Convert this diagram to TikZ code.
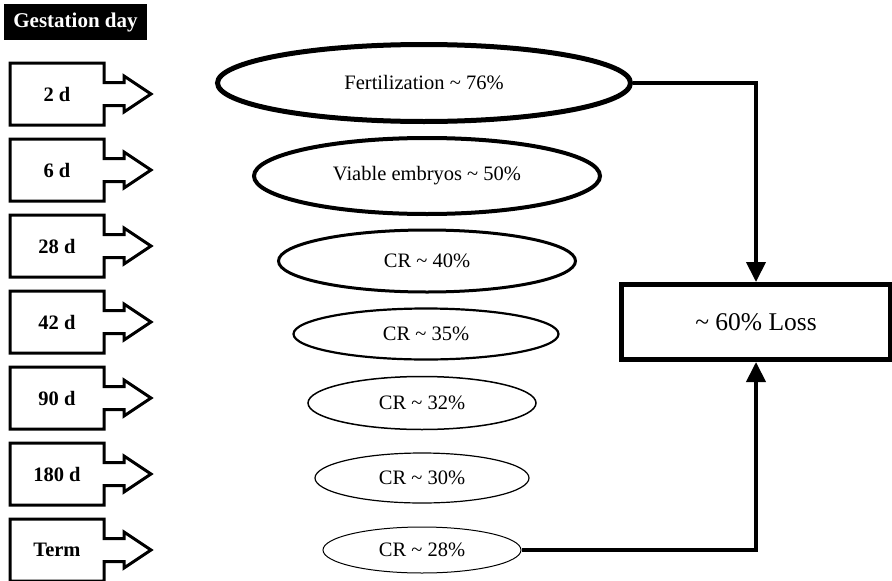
\documentclass[tikz,border=0pt]{standalone}
\usepackage{fontspec}
\setmainfont{Liberation Serif}
\usetikzlibrary{arrows.meta,shapes.geometric}
\tikzset{
	headbox/.style={fill=black, text=white, font=\bfseries\fontsize{21}{25}\selectfont, minimum width=143pt, minimum height=36pt, inner sep=0pt},
	daytext/.style={font=\bfseries\fontsize{20.5}{24}\selectfont, minimum width=94pt, minimum height=62pt, inner sep=0pt},
	dayline/.style={line width=3pt, line join=miter},
	stage/.style={ellipse, draw, inner sep=0pt, font=\fontsize{20.5}{24}\selectfont},
	lossbox/.style={draw, line width=5pt, minimum width=269pt, minimum height=75pt, inner sep=0pt, font=\fontsize{25.5}{30}\selectfont},
	lossline/.style={line width=4pt, -{Triangle[length=20pt,width=19pt]}}
}
\def\daybox(#1:#2)#3{
	\node[daytext] (#1) at (57, #2) {#3};
	\draw[dayline] (#1.center) ++(-47, -31) -- ++(94, 0) -- ++(0, 19.5) -- ++(20, 0) -- ++(0, -6.5) -- ++(27, 18) -- ++(-27, 18) -- ++(0, -6.5) -- ++(-20, 0) -- ++(0, 19.5) -- ++(-94, 0) -- cycle;
}

\begin{document}
\begin{tikzpicture}[x=1pt, y=-1pt]
			%%%%% START %%%%%
			\useasboundingbox (0, 0) rectangle (892, 581);
			
			\node[headbox] (head) at (75.5, 22) {Gestation day};
			
			\daybox(day2:94){2 d}
			\daybox(day6:170){6 d}
			\daybox(day28:246){28 d}
			\daybox(day42:322){42 d}
			\daybox(day90:398){90 d}
			\daybox(day180:474){180 d}
			\daybox(term:550){Term}
			
			\node[stage, line width=5pt, minimum width=413pt, minimum height=77pt] (fert) at (424, 83) {Fertilization \textasciitilde{} 76\%};
			\node[stage, line width=4pt, minimum width=346pt, minimum height=76pt] (viable) at (427, 176) {Viable embryos \textasciitilde{} 50\%};
			\node[stage, line width=3pt, minimum width=297pt, minimum height=62pt] (cr40) at (427, 261) {CR \textasciitilde{} 40\%};
			\node[stage, line width=2.2pt, minimum width=265pt, minimum height=51pt] (cr35) at (426, 334) {CR \textasciitilde{} 35\%};
			\node[stage, line width=1.5pt, minimum width=228pt, minimum height=53pt] (cr32) at (422, 403) {CR \textasciitilde{} 32\%};
			\node[stage, line width=1.2pt, minimum width=214pt, minimum height=50pt] (cr30) at (422, 478) {CR \textasciitilde{} 30\%};
			\node[stage, line width=1pt, minimum width=198pt, minimum height=46pt] (cr28) at (422, 550) {CR \textasciitilde{} 28\%};
			
			\node[lossbox] (loss) at (756, 322) {\textasciitilde{} 60\% Loss};
			
			\draw[lossline] (fert.east) -| (loss.north);
			\draw[lossline] (cr28.east) -| (loss.south);
			
			%%%%% END %%%%%
\end{tikzpicture}
\end{document}
